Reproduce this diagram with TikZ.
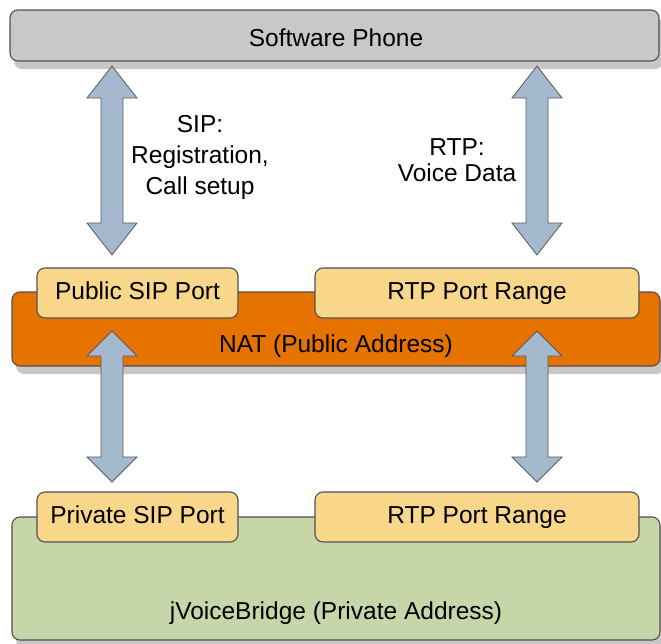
\documentclass[tikz,border=0pt]{standalone}
\usepackage{fontspec}
\setmainfont{Liberation Sans}
\usetikzlibrary{shadows}
\definecolor{phonegray}{HTML}{C8C8C8}
\definecolor{natorange}{HTML}{E67200}
\definecolor{portyellow}{HTML}{F8D68A}
\definecolor{bridgegreen}{HTML}{C6D6A8}
\definecolor{arrowblue}{HTML}{A5B9CE}
\definecolor{edgegray}{HTML}{505050}
\newcommand\fatarrow[4]{% x, y of upper tip, y of lower tip, head length
  \draw[fat] (#1,#2) -- (#1+25,#2+#4) -- (#1+11,#2+#4) -- (#1+11,#3-#4)
    -- (#1+25,#3-#4) -- (#1,#3) -- (#1-25,#3-#4) -- (#1-11,#3-#4)
    -- (#1-11,#2+#4) -- (#1-25,#2+#4) -- cycle;}
\begin{document}
\begin{tikzpicture}[x=1pt,y=-1pt,
  box/.style={draw=edgegray, line width=1.1pt, rounded corners=8pt, inner sep=0pt},
  shadowed/.style={drop shadow={shadow xshift=4pt, shadow yshift=-8pt, fill=black!22, opacity=1}},
  lbl/.style={font=\fontsize{24.5}{29}\selectfont, text=black},
  oneline/.style={text height=17.5pt, text depth=4pt},
  fat/.style={fill=arrowblue, draw=gray!70!black, line width=0.8pt, line join=miter},
  port/.style={box, fill=portyellow, minimum height=50pt, oneline},
]
\useasboundingbox (0,0) rectangle (661,643);

% big boxes
\node[box, shadowed, fill=phonegray, minimum width=649pt, minimum height=51pt] (phone) at (334.5,35.5) {};
\node[lbl, oneline] (phonelbl) at (336,40) {Software Phone};
\node[box, shadowed, fill=natorange, minimum width=648pt, minimum height=74pt] (nat) at (336,329) {};
\node[lbl, oneline] (natlbl) at (336,346) {NAT (Public Address)};
\node[box, shadowed, fill=bridgegreen, minimum width=648pt, minimum height=123pt] (bridge) at (336,578.5) {};
\node[lbl, oneline] (bridgelbl) at (336,613) {jVoiceBridge (Private Address)};

% ports
\node[port, minimum width=201pt, lbl] (pubsip) at (137.5,293) {Public SIP Port};
\node[port, minimum width=324pt, lbl] (pubrtp) at (477,293) {RTP Port Range};
\node[port, minimum width=201pt, lbl] (privsip) at (137.5,517) {Private SIP Port};
\node[port, minimum width=324pt, lbl] (privrtp) at (477,517) {RTP Port Range};

% arrows
\fatarrow{112}{66}{255}{32}
\fatarrow{537}{66}{255}{32}
\fatarrow{112}{331}{482}{25}
\fatarrow{537}{331}{482}{25}

% labels
\node[lbl, align=center, font=\fontsize{24.5}{31}\selectfont] (siplbl) at (200,157) {SIP:\\Registration,\\Call setup};
\node[lbl, align=center, font=\fontsize{24.5}{26}\selectfont] (rtplbl) at (457,160) {RTP:\\Voice Data};
\end{tikzpicture}
\end{document}
